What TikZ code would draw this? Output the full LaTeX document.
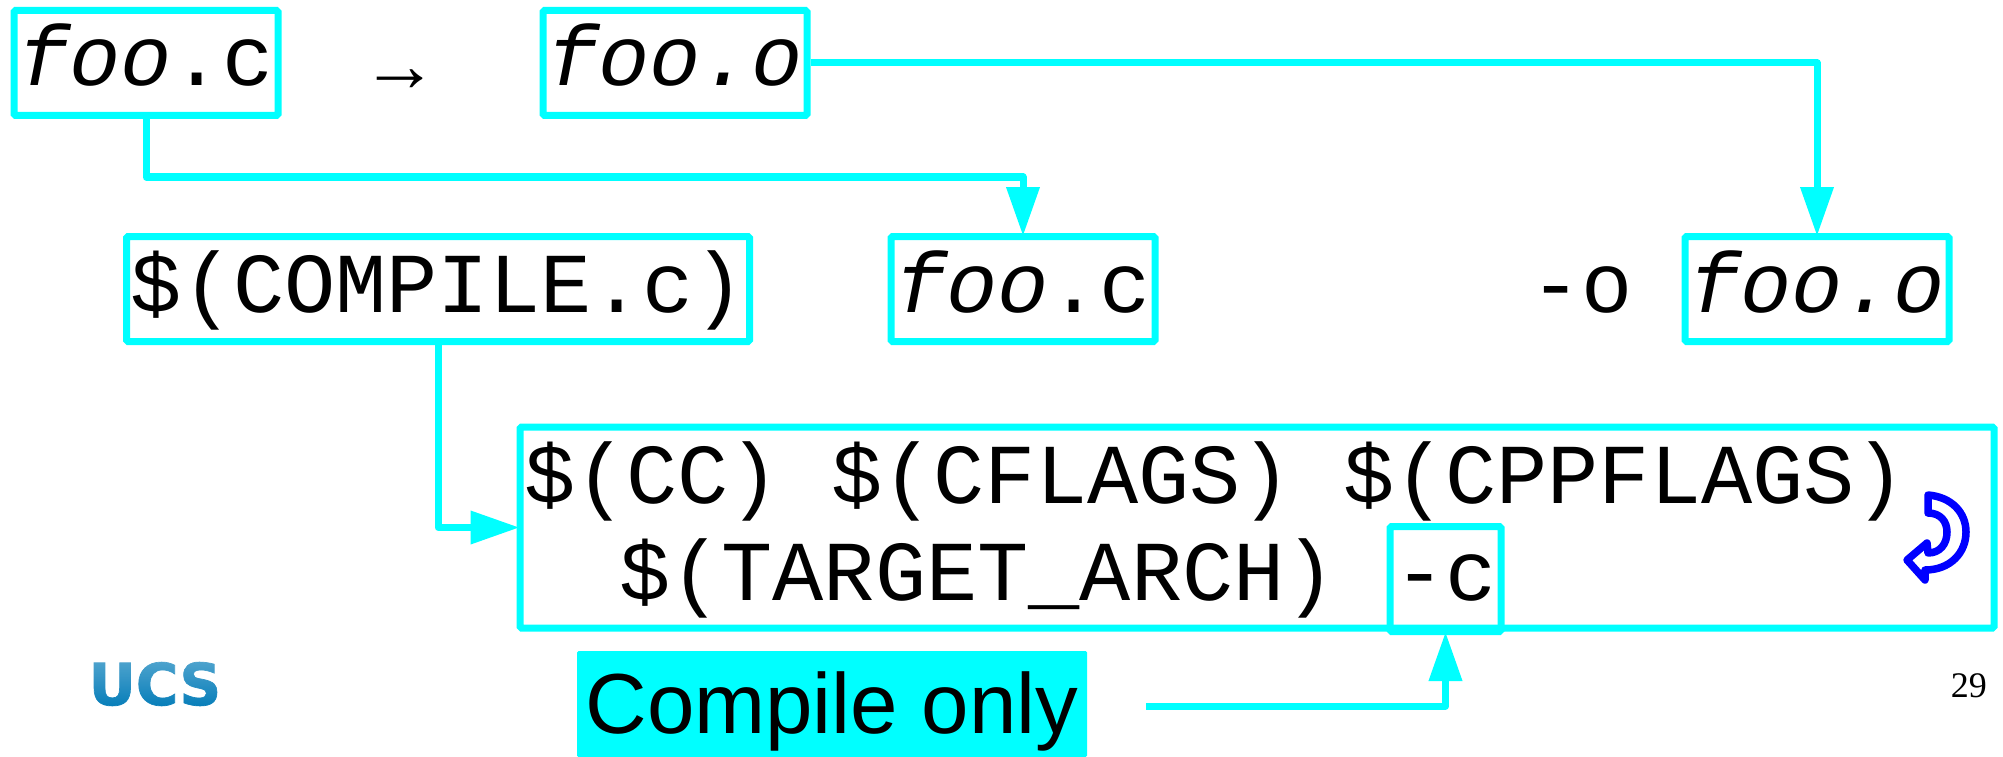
\documentclass[tikz,border=0pt]{standalone}
\usepackage{fontspec}
\usetikzlibrary{arrows.meta,fadings,calc}
\setmonofont{Liberation Mono}
\newfontfamily\sansf{Liberation Sans}
\newfontfamily\seriff{Liberation Serif}
\newfontfamily\logof[FakeBold=1.2]{DejaVu Sans Bold}
\definecolor{cy}{RGB}{0,255,255}
\newcommand{\mono}{\ttfamily\fontsize{85.3}{85.3}\selectfont}
\tikzfading[name=ucsfade,top color=transparent!70,bottom color=transparent!100]
\tikzset{
  box/.style={draw=cy,line width=7pt,rounded corners=1.5pt,inner sep=0pt,minimum height=105pt,text height=60pt,text depth=14pt,align=center,font=\mono},
  plain/.style={inner sep=0pt,anchor=base west,font=\mono},
  conn/.style={draw=cy,line width=7pt,line join=round,-{Triangle[length=49pt,width=32pt]},shorten >=-3pt}
}
\begin{document}
\begin{tikzpicture}[x=1pt,y=-1pt]
\useasboundingbox (0,0) rectangle (2003,757);
\node[box,minimum width=264pt] (fooc) at (146,63) {\textit{foo}.c};
\node[inner sep=0pt,font=\seriff\fontsize{77}{77}\selectfont] (arr) at (400,81) {→};
\node[box,minimum width=264pt] (fooo) at (675,63) {\textit{foo.o}};
\node[box,minimum width=623pt] (comp) at (438,289) {\$(COMPILE.c)};
\node[box,minimum width=264pt] (foocb) at (1023,289) {\textit{foo}.c};
\node[plain] (dasho) at (1530,312) {-o};
\node[box,minimum width=264pt] (ooob) at (1817,289) {\textit{foo.o}};
\node[draw=cy,line width=7pt,rounded corners=1.5pt,minimum width=1474pt,minimum height=201pt,inner sep=0pt] (big) at (1257,527.5) {};
\node[plain] (lineone) at (524,503) {\$(CC) \$(CFLAGS) \$(CPPFLAGS)};
\node[plain] (linetwo) at (619,600) {\$(TARGET\_ARCH)};
\node[box,minimum width=111pt,text height=56pt,text depth=14pt] (dc) at (1445.5,579) {-c};
\node[fill=cy,rounded corners=1.5pt,inner sep=0pt,minimum width=510pt,minimum height=106pt,text height=72pt,text depth=14pt,font=\sansf\fontsize{85.3}{85.3}\selectfont] (only) at (832,704) {Compile only};
\node[inner sep=0pt,anchor=base east,font=\seriff\fontsize{36}{36}\selectfont] (pg) at (1987,697) {29};
\coordinate (startc) at (1146,706);
\draw[conn] (fooc.south) -- ++(0,58) -| (foocb.north);
\draw[conn] (fooo.east) -| (ooob.north);
\draw[conn] (comp.south) |- (big.west);
\draw[conn] (startc) -| (dc.south);
\draw[blue,line width=7.5pt,line join=round] (1928,495) .. controls (1952,497) and (1966,513) .. (1966,532) .. controls (1966,553) and (1950,570) .. (1925,570) -- (1925,580) -- (1907,560) -- (1927,543) -- (1928,553) .. controls (1940,553) and (1947,544) .. (1947,532) .. controls (1947,521) and (1940,513) .. (1928,513) -- cycle;
\node[inner sep=0pt,text={rgb,255:red,5;green,125;blue,185},font=\logof\fontsize{58}{58}\selectfont] (ucs) at (155,684) {UCS};
\fill[white,path fading=ucsfade] (85,660) rectangle (225,708);
\end{tikzpicture}
\end{document}
